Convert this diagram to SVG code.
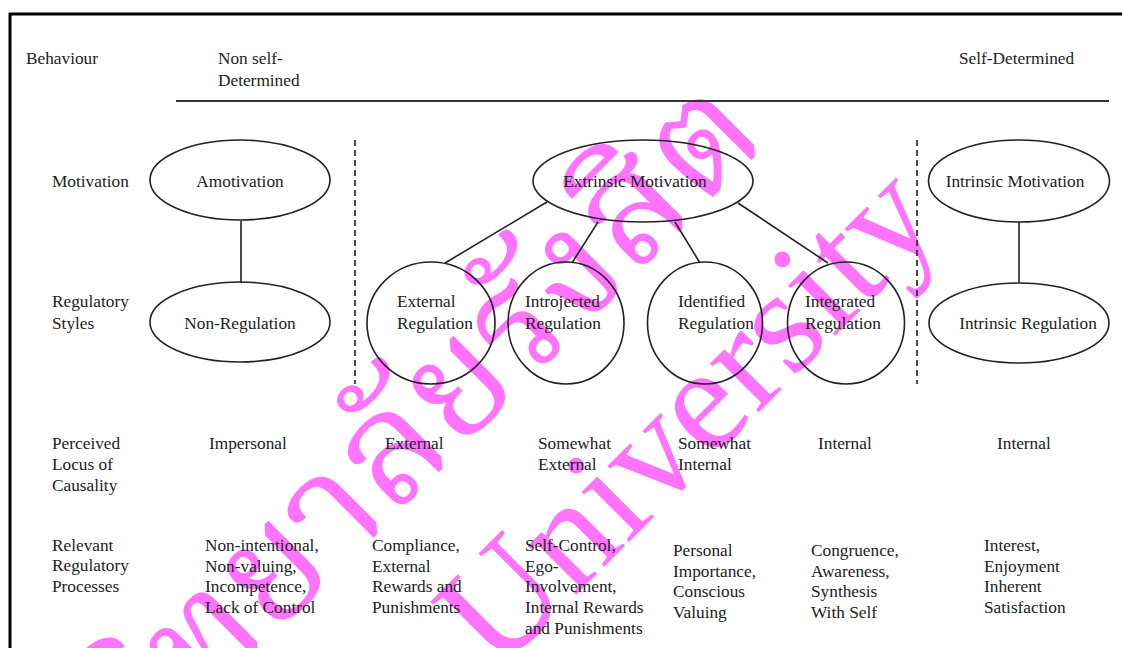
<svg xmlns="http://www.w3.org/2000/svg" width="1122" height="648" viewBox="0 0 1122 648">
<defs>
<style>
text{font-family:"Liberation Serif","Times New Roman",serif;font-size:17.3px;fill:#222}
.c{text-anchor:middle}
.n{fill:none;stroke:#222;stroke-width:1.6}
.e{stroke:#222;stroke-width:1.6;fill:none}
.d{stroke:#333;stroke-width:1.8;stroke-dasharray:6,4;fill:none}
.wmT{font-family:"Kinnari","Norasi","Noto Serif Thai","Noto Sans Thai Looped","Laksaman","Loma","Garuda",serif;font-size:155px;fill:#ff73ff}
.wmE{font-family:"Liberation Serif",serif;font-size:150px;fill:#ff73ff}
</style>
</defs>
<rect width="1122" height="648" fill="#fff"/>
<g id="watermark">
<text class="wmT" transform="translate(770,140) rotate(-45)" text-anchor="end">มหาวิทยาลัยรังสิต</text>
<text class="wmE" transform="translate(945,226) rotate(-45)" text-anchor="end">Rangsit University</text>
</g>
<g id="frame">
<line x1="9" y1="14" x2="1122" y2="14" stroke="#000" stroke-width="3"/>
<line x1="10" y1="13" x2="10" y2="648" stroke="#000" stroke-width="3"/>
<line x1="176" y1="101" x2="1109" y2="101" stroke="#333" stroke-width="2"/>
<line class="d" x1="355" y1="140" x2="355" y2="384"/>
<line class="d" x1="917" y1="140" x2="917" y2="384"/>
</g>
<g id="row-labels">
<text x="26" y="64">Behaviour</text>
<text x="218" y="64">Non self-</text>
<text x="218" y="86">Determined</text>
<text x="959" y="64">Self-Determined</text>
<text x="52" y="187">Motivation</text>
<text x="52" y="307">Regulatory</text>
<text x="52" y="329">Styles</text>
<text x="52" y="449">Perceived</text>
<text x="52" y="470">Locus of</text>
<text x="52" y="491">Causality</text>
<text x="52" y="551">Relevant</text>
<text x="52" y="571">Regulatory</text>
<text x="52" y="592">Processes</text>
</g>
<g id="connectors">
<line class="n" x1="241" y1="221" x2="241" y2="283"/>
<line class="n" x1="1019" y1="222" x2="1019" y2="283"/>
<line class="n" x1="547" y1="202" x2="445" y2="263"/>
<line class="n" x1="598" y1="222" x2="572" y2="263"/>
<line class="n" x1="675" y1="222" x2="700" y2="263"/>
<line class="n" x1="738" y1="203" x2="828" y2="263"/>
</g>
<g id="amotivation"><ellipse class="e" cx="240" cy="180" rx="90" ry="40"/><text class="c" x="240" y="187">Amotivation</text></g>
<g id="non-regulation"><ellipse class="e" cx="240" cy="322" rx="90" ry="40"/><text class="c" x="240" y="329">Non-Regulation</text></g>
<g id="extrinsic-motivation"><ellipse class="e" cx="643" cy="181" rx="110" ry="41"/><text class="c" x="635" y="187">Extrinsic Motivation</text></g>
<g id="external-regulation"><ellipse class="e" cx="431" cy="323" rx="64" ry="61"/><text x="397" y="307">External</text><text x="397" y="329">Regulation</text></g>
<g id="introjected-regulation"><ellipse class="e" cx="566" cy="323" rx="58" ry="61"/><text x="525" y="307">Introjected</text><text x="525" y="329">Regulation</text></g>
<g id="identified-regulation"><ellipse class="e" cx="705" cy="323" rx="57.5" ry="61"/><text x="678" y="307">Identified</text><text x="678" y="329">Regulation</text></g>
<g id="integrated-regulation"><ellipse class="e" cx="846" cy="323" rx="58.5" ry="61"/><text x="805" y="307">Integrated</text><text x="805" y="329">Regulation</text></g>
<g id="intrinsic-motivation"><ellipse class="e" cx="1019" cy="181" rx="90.5" ry="41"/><text class="c" x="1015" y="187">Intrinsic Motivation</text></g>
<g id="intrinsic-regulation"><ellipse class="e" cx="1019" cy="323" rx="90" ry="40"/><text class="c" x="1028" y="329">Intrinsic Regulation</text></g>
<g id="locus">
<text x="209" y="449">Impersonal</text>
<text x="385" y="449">External</text>
<text x="538" y="449">Somewhat</text><text x="538" y="470">External</text>
<text x="678" y="449">Somewhat</text><text x="678" y="470">Internal</text>
<text x="818" y="449">Internal</text>
<text x="997" y="449">Internal</text>
</g>
<g id="processes">
<text x="205" y="551">Non-intentional,</text><text x="205" y="572">Non-valuing,</text><text x="205" y="592">Incompetence,</text><text x="205" y="613">Lack of Control</text>
<text x="372" y="551">Compliance,</text><text x="372" y="572">External</text><text x="372" y="592">Rewards and</text><text x="372" y="613">Punishments</text>
<text x="525" y="551">Self-Control,</text><text x="525" y="572">Ego-</text><text x="525" y="592">Involvement,</text><text x="525" y="613">Internal Rewards</text><text x="525" y="634">and Punishments</text>
<text x="673" y="556">Personal</text><text x="673" y="577">Importance,</text><text x="673" y="597">Conscious</text><text x="673" y="618">Valuing</text>
<text x="811" y="556">Congruence,</text><text x="811" y="577">Awareness,</text><text x="811" y="597">Synthesis</text><text x="811" y="618">With Self</text>
<text x="984" y="551">Interest,</text><text x="984" y="572">Enjoyment</text><text x="984" y="592">Inherent</text><text x="984" y="613">Satisfaction</text>
</g>
</svg>
